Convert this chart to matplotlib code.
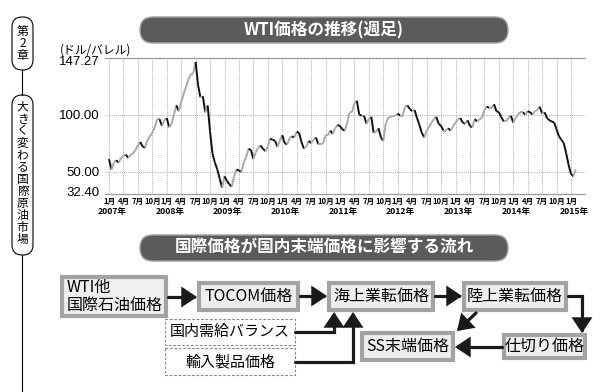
import matplotlib.pyplot as plt
from matplotlib.collections import LineCollection
from matplotlib.patches import FancyBboxPatch, FancyArrowPatch, Rectangle
from matplotlib.path import Path

plt.rcParams['font.family'] = ['Noto Sans CJK JP', 'DejaVu Sans']

price_2007 = [61, 52, 58, 60, 58, 62, 64, 65, 62, 65, 66, 69,
              73, 76, 72, 71, 78, 81, 84, 89, 96, 96, 90, 95]
price_2008 = [97, 89, 92, 100, 108, 103, 111, 118, 124, 131, 135, 136,
              146, 126, 115, 116, 102, 108, 85, 66, 58, 52, 44, 36]
price_2009 = [46, 42, 39, 37, 46, 52, 51, 50, 58, 63, 70, 69,
              61, 67, 71, 73, 70, 68, 72, 79, 78, 77, 72, 77]
price_2010 = [82, 75, 74, 79, 81, 80, 85, 84, 76, 70, 72, 77,
              75, 78, 80, 74, 74, 75, 82, 82, 86, 83, 88, 91]
price_2011 = [90, 87, 86, 93, 102, 102, 110, 112, 100, 99, 99, 92,
              96, 98, 84, 85, 88, 80, 77, 92, 97, 98, 99, 99]
price_2012 = [101, 99, 99, 107, 108, 105, 103, 104, 97, 91, 84, 80,
              86, 89, 93, 96, 98, 92, 90, 86, 86, 88, 86, 90]
price_2013 = [93, 96, 97, 93, 92, 95, 90, 89, 96, 94, 96, 97,
              104, 107, 106, 106, 109, 103, 102, 98, 94, 94, 97, 99]
price_2014 = [93, 97, 100, 102, 102, 100, 103, 102, 100, 103, 104, 107,
              101, 102, 97, 95, 94, 93, 87, 81, 78, 75, 66, 56]
price_2015 = [48, 46, 52]

prices = (price_2007 + price_2008 + price_2009 + price_2010 + price_2011
          + price_2012 + price_2013 + price_2014 + price_2015)
dates = [2007 + i / 24 for i in range(len(prices))]

y_ticks = [147.27, 100.00, 50.00, 32.40]
y_labels = ['147.27', '100.00', '50.00', '32.40']
month_names = ['1月', '4月', '7月', '10月']
years = list(range(2007, 2016))

side_chapter = ['第', '2', '章']
side_title = list('大きく変わる国際原油市場')

# (label, x0, x1, y0, y1) in page pixels
solid_boxes = [('TOCOM価格', 197, 300, 281, 312),
               ('海上業転価格', 327, 435, 281, 312),
               ('陸上業転価格', 462, 568, 281, 312),
               ('仕切り価格', 502, 587, 333, 360),
               ('SS末端価格', 360, 455, 331, 362)]
dashed_boxes = [('国内需給バランス', 165, 295, 319, 345),
                ('輸入製品価格', 165, 295, 348, 375)]


def year_to_px(yr):
    return 109 + (yr - 2007) * 57.75


def px_to_year(px):
    return 2007 + (px - 109) / 57.75


fig = plt.figure(figsize=(6.06, 3.92), dpi=100)

# page layer in pixel coordinates
bg = fig.add_axes([0, 0, 1, 1])
bg.set_xlim(0, 606)
bg.set_ylim(392, 0)
bg.axis('off')

# side bar
bg.plot([22, 22], [70, 95], color='black', lw=0.8)
bg.plot([22, 22], [255, 392], color='black', lw=0.8)
bg.add_patch(FancyBboxPatch((12, 17), 21, 53, boxstyle='round,pad=0,rounding_size=10',
                            fc='white', ec='black', lw=0.8))
bg.add_patch(FancyBboxPatch((12, 95), 21, 160, boxstyle='round,pad=0,rounding_size=10',
                            fc='white', ec='black', lw=0.8))
for i, ch in enumerate(side_chapter):
    bg.text(22.5, 31 + i * 12, ch, ha='center', va='center', fontsize=8.5)
for i, ch in enumerate(side_title):
    bg.text(22.5, 107 + i * 12, ch, ha='center', va='center', fontsize=8.5)

# title banners
for (y0, text) in [(17, 'WTI価格の推移(週足)'), (235, '国際価格が国内末端価格に影響する流れ')]:
    bg.add_patch(FancyBboxPatch((140, y0), 368, 26, boxstyle='round,pad=0,rounding_size=13',
                                fc='#5b5b5b', ec='#a0a0a0', lw=1.0))
    bg.text(324, y0 + 13, text, ha='center', va='center', fontsize=12,
            fontweight='bold', color='white')

# price chart
ax = fig.add_axes([105 / 606, (392 - 194) / 392, 480 / 606, 136 / 392])
ax.patch.set_alpha(0)
ax.set_xlim(px_to_year(105), px_to_year(585))
ax.set_ylim(30.5, 149.5)

quarter_pos = []
quarter_lab = []
for yr in years:
    for q, m in enumerate(month_names):
        pos = yr + q * 0.25
        if pos <= 2015.0:
            quarter_pos.append(pos)
            quarter_lab.append(m)
for pos in quarter_pos:
    ax.axvline(pos, color='#8a8a8a', lw=0.6, ls=(0, (1, 1.5)), zorder=1)
for val in [100.0, 50.0]:
    ax.axhline(val, color='#8a8a8a', lw=0.6, ls=(0, (1, 1.5)), zorder=1)

segs = [[(dates[i], prices[i]), (dates[i + 1], prices[i + 1])] for i in range(len(prices) - 1)]
cols = ['#111111' if prices[i + 1] < prices[i] else '#a8a8a8' for i in range(len(prices) - 1)]
ax.add_collection(LineCollection(segs, colors=cols, linewidths=1.4, zorder=3))

for s in ['left', 'right']:
    ax.spines[s].set_visible(False)
for s in ['top', 'bottom']:
    ax.spines[s].set_color('#9a9a9a')
    ax.spines[s].set_linewidth(0.9)

ax.set_yticks(y_ticks)
ax.set_yticklabels(y_labels, fontsize=9.5, fontfamily='Liberation Sans')
ax.set_xticks(quarter_pos)
ax.set_xticklabels(quarter_lab, fontsize=5.5, fontweight='bold')
ax.tick_params(axis='both', length=0)
ax.tick_params(axis='y', pad=4)
ax.tick_params(axis='x', pad=2)

for yr in years:
    bg.text(year_to_px(yr) + 3, 211, f'{yr}年', ha='center', va='center',
            fontsize=6.2, fontweight='bold')
bg.text(60, 50, '(ドル/バレル)', ha='left', va='center', fontsize=8.5)

# flow diagram
bg.add_patch(Rectangle((62, 277), 104, 39, fc='#efefef', ec='#a3a3a3', lw=3))
bg.text(67, 287, 'WTI他', ha='left', va='center', fontsize=11.5)
bg.text(67, 305, '国際石油価格', ha='left', va='center', fontsize=11.5)
for label, x0, x1, y0, y1 in solid_boxes:
    bg.add_patch(Rectangle((x0 + 2, y0 + 2), x1 - x0 - 4, y1 - y0 - 4,
                           fc='#efefef', ec='#a3a3a3', lw=3))
    bg.text((x0 + x1) / 2, (y0 + y1) / 2, label, ha='center', va='center', fontsize=11.5)
for label, x0, x1, y0, y1 in dashed_boxes:
    bg.add_patch(Rectangle((x0, y0), x1 - x0, y1 - y0, fc='white', ec='#8a8a8a',
                           lw=0.8, ls=(0, (2.5, 1.5))))
    bg.text((x0 + x1) / 2, (y0 + y1) / 2, label, ha='center', va='center', fontsize=10.8)

arrow_paths = [[(168, 297), (197, 297)],
               [(300, 296), (327, 296)],
               [(435, 296), (462, 296)],
               [(568, 296), (582, 296), (582, 333)],
               [(502, 347), (455, 347)],
               [(476, 313), (457, 331)],
               [(295, 332), (334, 332), (334, 312)],
               [(295, 362), (353, 362), (353, 312)]]
for pts in arrow_paths:
    codes = [Path.MOVETO] + [Path.LINETO] * (len(pts) - 1)
    bg.add_patch(FancyArrowPatch(path=Path(pts, codes),
                                 arrowstyle='-|>,head_length=0.45,head_width=0.3',
                                 mutation_scale=18, lw=2.3, color='#1a1a1a',
                                 shrinkA=0, shrinkB=0, joinstyle='miter'))

fig.savefig('out.png', dpi=100)
